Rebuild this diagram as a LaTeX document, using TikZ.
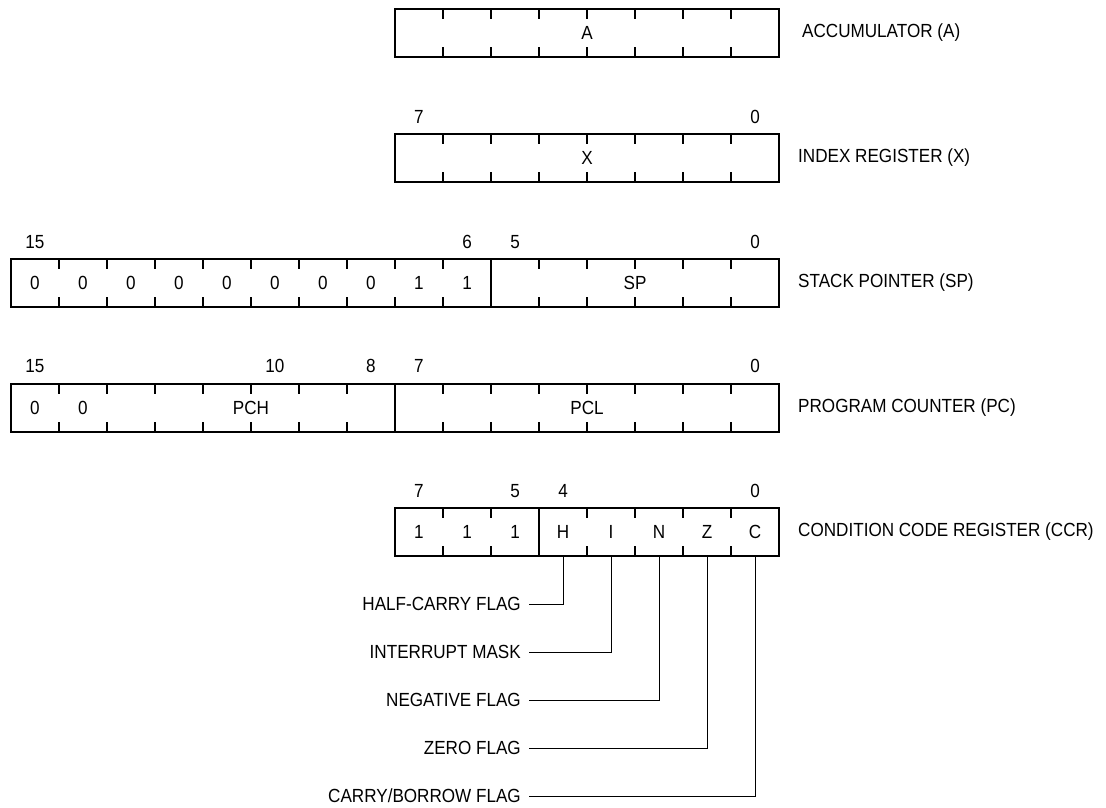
\documentclass[tikz,border=0pt]{standalone}
\usepackage{fontspec}
\setmainfont{Liberation Sans}[FakeStretch=0.9]
\begin{document}
\begin{tikzpicture}[x=1pt,y=-1pt,
    regbox/.style={draw,line width=1.2pt,minimum height=48pt,inner sep=0pt},
    bittick/.style={line width=1.1pt},
    txt/.style={font=\fontsize{19}{22}\selectfont,inner sep=0pt},
    cell/.style={txt,minimum size=48pt},
    regname/.style={txt,anchor=west},
    flag/.style={txt,anchor=east,inner xsep=8pt},
    wire/.style={line width=0.9pt}]
  \useasboundingbox (0,0) rectangle (1106,808);
  % accumulator
  \node[regbox,minimum width=384pt] (accA) at (587,33) {};
  \node[txt] (accAtxt) at (accA) {A};
  \foreach \k in {1,...,7}
    \draw[bittick] ({395+48*\k},9) -- ++(0,10) ({395+48*\k},57) -- ++(0,-10);
  \node[regname] (accAname) at (802,33) {ACCUMULATOR (A)};
  % index register
  \node[regbox,minimum width=384pt] (idxX) at (587,158) {};
  \node[txt] (idxXtxt) at (idxX) {X};
  \foreach \k in {1,...,7}
    \draw[bittick] ({395+48*\k},134) -- ++(0,10) ({395+48*\k},182) -- ++(0,-10);
  \node[txt] (idxXb7) at (419,117) {7};
  \node[txt] (idxXb0) at (755,117) {0};
  \node[regname] (idxXname) at (798,158) {INDEX REGISTER (X)};
  % stack pointer
  \node[regbox,minimum width=768pt] (stkSP) at (395,283) {};
  \draw[line width=1.2pt] (491,259) -- (491,307);
  \foreach \k in {1,...,9,11,12,13,14,15}
    \draw[bittick] ({11+48*\k},259) -- ++(0,10) ({11+48*\k},307) -- ++(0,-10);
  \foreach \k/\t in {0/0,1/0,2/0,3/0,4/0,5/0,6/0,7/0,8/1,9/1}
    \node[cell] (stkc\k) at ({35+48*\k},283) {\t};
  \node[txt] (stkSPtxt) at (635,283) {SP};
  \foreach \b/\x in {15/35,6/467,5/515,0/755}
    \node[txt] (stkb\b) at (\x,242) {\b};
  \node[regname] (stkSPname) at (798,283) {STACK POINTER (SP)};
  % program counter
  \node[regbox,minimum width=768pt] (pgmPC) at (395,408) {};
  \draw[line width=1.2pt] (395,384) -- (395,432);
  \foreach \k in {1,...,7,9,10,11,12,13,14,15}
    \draw[bittick] ({11+48*\k},384) -- ++(0,10) ({11+48*\k},432) -- ++(0,-10);
  \foreach \k/\t in {0/0,1/0}
    \node[cell] (pgmc\k) at ({35+48*\k},408) {\t};
  \node[txt] (pgmPCH) at (251,408) {PCH};
  \node[txt] (pgmPCL) at (587,408) {PCL};
  \foreach \b/\x in {15/35,10/275,8/371,7/419,0/755}
    \node[txt] (pgmb\b) at (\x,366) {\b};
  \node[regname] (pgmPCname) at (798,408) {PROGRAM COUNTER (PC)};
  % condition code register
  \node[regbox,minimum width=384pt] (ccr) at (587,532) {};
  \draw[line width=1.2pt] (539,508) -- (539,556);
  \foreach \k in {1,2,4,5,6,7}
    \draw[bittick] ({395+48*\k},508) -- ++(0,10) ({395+48*\k},556) -- ++(0,-10);
  \foreach \k/\t/\n in {0/1/ccrb7,1/1/ccrb6,2/1/ccrb5,3/H/ccrh,4/I/ccri,5/N/ccrn,6/Z/ccrz,7/C/ccrc}
    \node[cell] (\n) at ({419+48*\k},532) {\t};
  \foreach \b/\x in {7/419,5/515,4/563,0/755}
    \node[txt] (ccrlbl\b) at (\x,491) {\b};
  \node[regname] (ccrname) at (798,532) {CONDITION CODE REGISTER (CCR)};
  % flag legends
  \node[flag] (hflag) at (529,604) {HALF-CARRY FLAG};
  \node[flag] (iflag) at (529,652) {INTERRUPT MASK};
  \node[flag] (nflag) at (529,700) {NEGATIVE FLAG};
  \node[flag] (zflag) at (529,748) {ZERO FLAG};
  \node[flag] (cflag) at (529,796) {CARRY/BORROW FLAG};
  \draw[wire] (hflag.east) -| (ccrh.south);
  \draw[wire] (iflag.east) -| (ccri.south);
  \draw[wire] (nflag.east) -| (ccrn.south);
  \draw[wire] (zflag.east) -| (ccrz.south);
  \draw[wire] (cflag.east) -| (ccrc.south);
\end{tikzpicture}
\end{document}
